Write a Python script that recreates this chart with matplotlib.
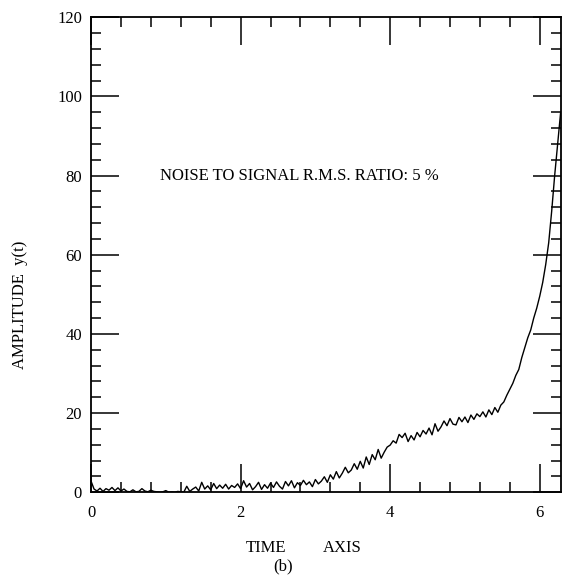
import matplotlib
matplotlib.use("Agg")
import matplotlib.pyplot as plt
from matplotlib.ticker import MultipleLocator

# time samples (TIME AXIS)
time = [
    0.00, 0.04, 0.08, 0.12, 0.16, 0.20, 0.24, 0.28, 0.32, 0.36,
    0.40, 0.44, 0.48, 0.52, 0.56, 0.60, 0.64, 0.68, 0.72, 0.76,
    0.80, 0.84, 0.88, 0.92, 0.96, 1.00, 1.04, 1.08, 1.12, 1.16,
    1.20, 1.24, 1.28, 1.32, 1.36, 1.40, 1.44, 1.48, 1.52, 1.56,
    1.60, 1.64, 1.68, 1.72, 1.76, 1.80, 1.84, 1.88, 1.92, 1.96,
    2.00, 2.04, 2.08, 2.12, 2.16, 2.20, 2.24, 2.28, 2.32, 2.36,
    2.40, 2.44, 2.48, 2.52, 2.56, 2.60, 2.64, 2.68, 2.72, 2.76,
    2.80, 2.84, 2.88, 2.92, 2.96, 3.00, 3.04, 3.08, 3.12, 3.16,
    3.20, 3.24, 3.28, 3.32, 3.36, 3.40, 3.44, 3.48, 3.52, 3.56,
    3.60, 3.64, 3.68, 3.72, 3.76, 3.80, 3.84, 3.88, 3.92, 3.96,
    4.00, 4.04, 4.08, 4.12, 4.16, 4.20, 4.24, 4.28, 4.32, 4.36,
    4.40, 4.44, 4.48, 4.52, 4.56, 4.60, 4.64, 4.68, 4.72, 4.76,
    4.80, 4.84, 4.88, 4.92, 4.96, 5.00, 5.04, 5.08, 5.12, 5.16,
    5.20, 5.24, 5.28, 5.32, 5.36, 5.40, 5.44, 5.48, 5.52, 5.56,
    5.60, 5.64, 5.68, 5.72, 5.76, 5.80, 5.84, 5.88, 5.92, 5.96,
    6.00, 6.04, 6.08, 6.12, 6.16, 6.20, 6.24, 6.28,
]

# noisy amplitude y(t)
amplitude = [
    2.8, 0.8, 0.3, 1.0, 0.2, 0.9, 0.5, 1.2, 0.4, 1.1,
    0.3, 0.8, 0.2, 0.1, 0.6, 0.1, 0.2, 0.9, 0.3, 0.1,
    0.5, 0.2, 0.1, 0.0, 0.1, 0.4, 0.0, 0.1, 0.0, 0.2,
    0.1, 0.0, 1.5, 0.2, 0.8, 1.3, 0.3, 2.5, 0.8, 1.6,
    0.6, 2.2, 0.9, 1.8, 1.0, 2.0, 0.8, 1.7, 1.2, 2.1,
    0.9, 2.9, 1.3, 2.2, 0.6, 1.4, 2.5, 0.7, 1.9, 1.0,
    2.3, 1.2, 2.6, 1.5, 0.8, 2.7, 1.6, 2.9, 1.1, 2.4,
    1.7, 3.0, 1.9, 2.6, 1.4, 3.2, 2.1, 2.8, 3.9, 2.5,
    4.4, 3.3, 5.2, 3.6, 4.8, 6.3, 4.9, 5.6, 7.2, 5.8,
    7.8, 6.1, 8.9, 7.0, 9.5, 8.2, 10.8, 8.6, 10.1, 11.4,
    11.9, 13.0, 12.4, 14.6, 13.8, 14.9, 12.8, 14.3, 13.2, 15.1,
    14.0, 15.6, 14.7, 16.2, 14.5, 17.3, 15.4, 16.5, 18.0, 16.8,
    18.6, 17.2, 17.0, 18.9, 17.8, 19.0, 17.6, 19.5, 18.4, 19.8,
    19.1, 20.3, 19.0, 20.8, 19.6, 21.4, 20.2, 22.0, 22.8, 24.5,
    26.0, 27.5, 29.5, 31.0, 34.0, 36.5, 39.0, 41.0, 44.0, 46.5,
    49.5, 53.0, 57.5, 63.0, 71.0, 80.0, 88.0, 96.0,
]

x_major = [0, 2, 4, 6]
y_major = [0, 20, 40, 60, 80, 100, 120]
annotation = "NOISE TO SIGNAL R.M.S. RATIO: 5 %"

plt.rcParams['font.family'] = ['Liberation Serif', 'DejaVu Serif']

fig = plt.figure(figsize=(5.62, 5.75), dpi=100)
ax = fig.add_axes([0.162, 0.144, 0.836, 0.826])

ax.plot(time, amplitude, color='black', linewidth=1.0)

ax.set_xlim(0, 6.283)
ax.set_ylim(0, 120)
ax.set_xticks(x_major)
ax.set_yticks(y_major)
ax.xaxis.set_minor_locator(MultipleLocator(0.4))
ax.yaxis.set_minor_locator(MultipleLocator(4))

ax.tick_params(which='major', direction='in', length=20, width=1.1,
               top=True, right=True, labelsize=12, pad=6.5, colors='black')
ax.tick_params(which='minor', direction='in', length=7, width=1.1,
               top=True, right=True)
ax.tick_params(axis='x', which='major', pad=9)

for s in ax.spines.values():
    s.set_linewidth(1.3)
    s.set_color('black')

ax.text(0.92, 80, annotation, fontsize=12, va='center', ha='left')

fig.text(20 / 562, 1 - 305 / 575, "AMPLITUDE  y(t)", rotation=90,
         fontsize=12, ha='center', va='center')
fig.text(266 / 562, 1 - 548 / 575, "TIME", fontsize=12, ha='center', va='center')
fig.text(342 / 562, 1 - 548 / 575, "AXIS", fontsize=12, ha='center', va='center')
fig.text(283 / 562, 1 - 566 / 575, "(b)", fontsize=12, ha='center', va='center')

fig.savefig("out.png", dpi=100)
